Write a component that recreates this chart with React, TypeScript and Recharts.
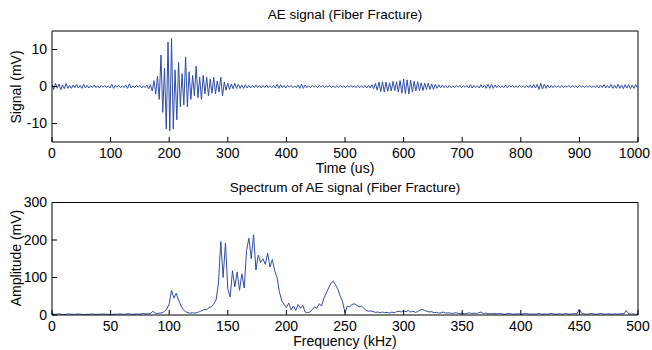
import { LineChart, Line, XAxis, YAxis } from 'recharts';

// AE signal, sampled every 3 us (0..999 us)
const SIGNAL_STEP = 3;
const signal = [
  0.6, -0.8, 0.9, -0.5, 0.7, -0.9, 0.4, -0.6, 0.8, -0.5,
  0.3, -0.5, 0.4, -0.3, 0.5, -0.4, 0.3, -0.5, 0.6, -0.4,
  0.3, -0.4, 0.2, -0.3, 0.4, -0.3, 0.2, -0.4, 0.3, -0.2,
  0.3, -0.3, 0.2, -0.4, 0.6, -0.5, 0.3, -0.2, 0.3, -0.3,
  0.2, -0.3, 0.4, -0.5, 0.7, -0.4, 0.2, -0.3, 0.3, -0.2,
  0.3, -0.4, 0.2, -0.3, 0.4, -0.6, 0.5, -1.2, 1.6, -2.1,
  2.8, -3.5, 8.5, -7.0, 5.0, -11.5, 12.0, -12.0, 13.0, -11.5,
  4.5, -9.0, 6.5, -5.5, 3.5, -5.0, 8.0, -5.5, 4.0, -3.5,
  3.0, -2.5, 5.5, -3.0, 2.5, -3.5, 3.0, -2.0, 2.5, -2.5,
  2.0, -1.8, 2.5, -2.0, 1.5, -1.5, 2.5, -2.5, 1.2, -1.0,
  0.9, -0.8, 0.7, -0.6, 0.8, -0.5, 0.6, -0.5, 0.4, -0.5,
  0.5, -0.4, 0.3, -0.4, 0.3, -0.3, 0.4, -0.3, 0.3, -0.4,
  0.3, -0.3, 0.4, -0.3, 0.2, -0.3, 0.3, -0.4, 0.6, -0.5,
  0.5, -0.3, 0.3, -0.4, 0.3, -0.2, 0.3, -0.3, 0.2, -0.3,
  0.4, -0.5, 0.6, -0.5, 0.4, -0.3, 0.2, -0.3, 0.3, -0.2,
  0.2, -0.3, 0.3, -0.2, 0.3, -0.3, 0.2, -0.2, 0.3, -0.3,
  0.2, -0.3, 0.2, -0.3, 0.3, -0.2, 0.2, -0.3, 0.2, -0.2,
  0.3, -0.2, 0.2, -0.3, 0.3, -0.3, 0.2, -0.3, 0.3, -0.4,
  0.3, -0.4, 0.5, -0.6, 0.8, -1.0, 1.2, -1.4, 1.3, -1.5,
  1.2, -1.3, 1.0, -1.2, 1.4, -1.1, 1.3, -1.5, 1.6, -1.8,
  2.0, -1.9, 1.8, -2.0, 1.7, -1.5, 1.4, -1.2, 1.3, -1.1,
  1.0, -1.1, 0.9, -0.8, 0.9, -0.8, 0.7, -0.8, 0.6, -0.5,
  0.5, -0.4, 0.4, -0.3, 0.3, -0.4, 0.3, -0.3, 0.2, -0.3,
  0.3, -0.2, 0.3, -0.3, 0.2, -0.2, 0.3, -0.4, 0.5, -0.4,
  0.3, -0.3, 0.2, -0.4, 0.5, -0.3, 0.4, -0.5, 0.6, -0.5,
  0.6, -0.5, 0.4, -0.3, 0.3, -0.3, 0.2, -0.3, 0.4, -0.3,
  0.3, -0.2, 0.3, -0.3, 0.2, -0.3, 0.3, -0.2, 0.2, -0.3,
  0.3, -0.3, 0.4, -0.4, 0.5, -0.4, 0.6, -0.8, 0.9, -0.7,
  0.6, -0.5, 0.4, -0.4, 0.3, -0.3, 0.3, -0.2, 0.2, -0.3,
  0.3, -0.3, 0.2, -0.2, 0.3, -0.3, 0.2, -0.2, 0.2, -0.3,
  0.3, -0.2, 0.2, -0.3, 0.2, -0.2, 0.3, -0.3, 0.2, -0.3,
  0.3, -0.4, 0.4, -0.3, 0.5, -0.4, 0.3, -0.4, 0.5, -0.5,
  0.4, -0.5, 0.6, -0.5, 0.4, -0.6, 0.5, -0.4, 0.5, -0.6,
  0.4, -0.5, 0.5, -0.3,
];

// spectrum amplitude, every 2 kHz (0..500 kHz)
const SPECTRUM_STEP = 2;
const spectrum = [
  3, 2, 2, 3, 2, 1, 2, 3, 2, 2,
  2, 3, 2, 2, 1, 2, 2, 3, 2, 2,
  2, 2, 3, 2, 2, 1, 2, 2, 2, 3,
  2, 2, 3, 3, 2, 2, 3, 2, 3, 4,
  3, 3, 4, 10, 5, 4, 5, 6, 10, 16,
  30, 66, 45, 58, 40, 25, 14, 9, 6, 5,
  6, 5, 7, 9, 12, 15, 14, 20, 22, 30,
  40, 85, 196, 100, 192, 70, 48, 118, 75, 115,
  66, 110, 72, 172, 205, 150, 214, 120, 160, 140,
  150, 135, 165, 128, 148, 118, 100, 62, 38, 28,
  20, 32, 14, 24, 12, 28, 18, 26, 8, 6,
  8, 14, 22, 18, 30, 24, 45, 58, 72, 85,
  90, 80, 68, 50, 35, 6, 24, 22, 28, 30,
  26, 22, 24, 18, 12, 10, 11, 9, 7, 8,
  6, 8, 6, 7, 5, 8, 6, 9, 10, 8,
  11, 9, 12, 8, 10, 7, 9, 13, 15, 12,
  10, 8, 9, 6, 7, 5, 6, 8, 5, 6,
  5, 4, 6, 5, 4, 5, 3, 4, 6, 4,
  5, 4, 6, 8, 4, 5, 3, 4, 3, 4,
  3, 4, 3, 2, 3, 4, 3, 2, 3, 3,
  2, 3, 4, 3, 2, 3, 2, 3, 4, 2,
  3, 2, 3, 4, 3, 2, 3, 3, 2, 4,
  3, 2, 3, 4, 3, 16, 4, 3, 2, 3,
  4, 3, 2, 3, 4, 3, 2, 3, 3, 2,
  3, 2, 3, 4, 3, 12, 3, 2, 3, 2,
  2,
];

const timeTicks = [0, 100, 200, 300, 400, 500, 600, 700, 800, 900, 1000];
const signalTicks = [-10, 0, 10];
const freqTicks = [0, 50, 100, 150, 200, 250, 300, 350, 400, 450, 500];
const ampTicks = [0, 100, 200, 300];

const signalData = signal.map((v, i) => ({ t: i * SIGNAL_STEP, v }));
const spectrumData = spectrum.map((a, i) => ({ f: i * SPECTRUM_STEP, a }));

const FONT = '"Liberation Sans", Arial, Helvetica, sans-serif';
const LINE = '#2E4DA7';
const TICK_FONT = 14;
const tickStyle = { fontSize: TICK_FONT, fill: '#000', fontFamily: FONT };

// bottom tick label, kept inside the 652px page on the right
function BottomTick(props: any) {
  const { x, y, payload } = props;
  const label = String(payload.value);
  const w = label.length * 0.556 * TICK_FONT;
  const cx = Math.min(x, 650 - w / 2);
  return (
    <text x={cx} y={y} dy="0.71em" textAnchor="middle" {...tickStyle}>
      {label}
    </text>
  );
}

function Text({ x, y, children, rotate, size = 14 }: { x: number; y: number; children: string; rotate?: boolean; size?: number }) {
  return (
    <div
      style={{
        position: 'absolute',
        left: x,
        top: y,
        transform: `translate(-50%, -50%)${rotate ? ' rotate(-90deg)' : ''}`,
        whiteSpace: 'nowrap',
        fontSize: size,
        fontFamily: FONT,
        color: '#000',
        lineHeight: `${size}px`,
      }}
    >
      {children}
    </div>
  );
}

function Panel({
  data,
  xKey,
  yKey,
  xDomain,
  xTicks,
  yDomain,
  yTicks,
  margin,
}: {
  data: any[];
  xKey: string;
  yKey: string;
  xDomain: [number, number];
  xTicks: number[];
  yDomain: [number, number];
  yTicks: number[];
  margin: { top: number; right: number; bottom: number; left: number };
}) {
  return (
    <LineChart width={652} height={175} data={data} margin={margin}>
      <XAxis
        xAxisId="b"
        dataKey={xKey}
        type="number"
        domain={xDomain}
        ticks={xTicks}
        interval={0}
        height={1}
        stroke="#000"
        tickSize={-5}
        tickMargin={11}
        tick={<BottomTick />}
        allowDataOverflow
      />
      <XAxis
        xAxisId="t"
        orientation="top"
        type="number"
        domain={xDomain}
        ticks={xTicks}
        interval={0}
        height={1}
        stroke="#000"
        tickSize={-5}
        tick={false}
        allowDataOverflow
      />
      <YAxis
        yAxisId="l"
        type="number"
        domain={yDomain}
        ticks={yTicks}
        interval={0}
        width={1}
        stroke="#000"
        tickSize={-5}
        tickMargin={10}
        tick={tickStyle}
        allowDataOverflow
      />
      <YAxis
        yAxisId="r"
        orientation="right"
        type="number"
        domain={yDomain}
        ticks={yTicks}
        interval={0}
        width={1}
        stroke="#000"
        tickSize={-5}
        tick={false}
        allowDataOverflow
      />
      <Line
        xAxisId="b"
        yAxisId="l"
        type="linear"
        dataKey={yKey}
        stroke={LINE}
        strokeWidth={1}
        dot={false}
        activeDot={false}
        isAnimationActive={false}
      />
    </LineChart>
  );
}

export default function App() {
  return (
    <div style={{ position: 'absolute', left: 0, top: 0, width: 652, height: 350, background: '#fff', overflow: 'hidden' }}>
      <div style={{ position: 'absolute', left: 0, top: 0 }}>
        <Panel
          data={signalData}
          xKey="t"
          yKey="v"
          xDomain={[0, 1000]}
          xTicks={timeTicks}
          yDomain={[-15, 15]}
          yTicks={signalTicks}
          margin={{ top: 30, right: 13, bottom: 32, left: 51 }}
        />
      </div>
      <div style={{ position: 'absolute', left: 0, top: 175 }}>
        <Panel
          data={spectrumData}
          xKey="f"
          yKey="a"
          xDomain={[0, 500]}
          xTicks={freqTicks}
          yDomain={[0, 300]}
          yTicks={ampTicks}
          margin={{ top: 26.5, right: 13, bottom: 34, left: 51 }}
        />
      </div>
      <Text x={345} y={15} size={13.5}>AE signal (Fiber Fracture)</Text>
      <Text x={345} y={168}>Time (us)</Text>
      <Text x={16} y={87} rotate>Signal (mV)</Text>
      <Text x={345} y={188} size={13.5}>Spectrum of AE signal (Fiber Fracture)</Text>
      <Text x={345} y={341}>Frequency (kHz)</Text>
      <Text x={16} y={258} rotate>Amplitude (mV)</Text>
    </div>
  );
}
